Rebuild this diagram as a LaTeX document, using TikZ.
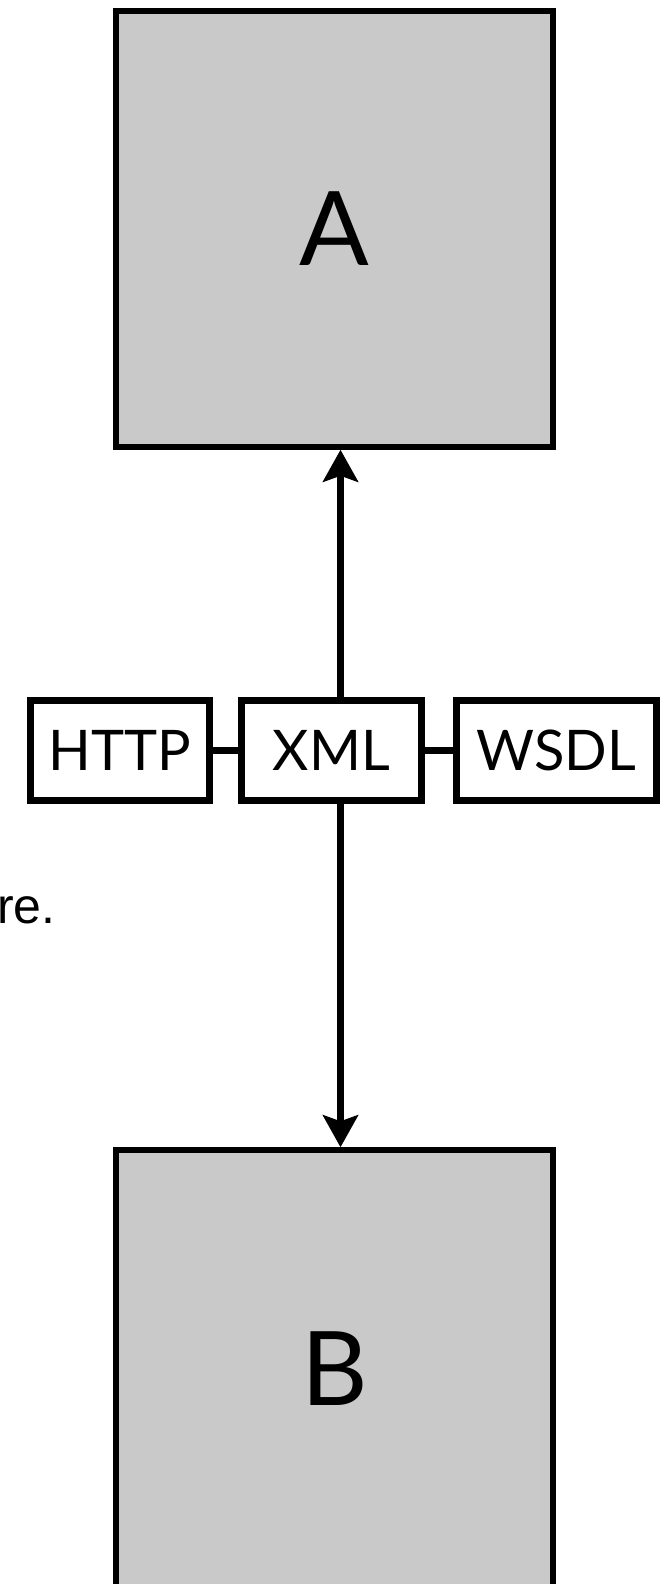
\documentclass[tikz,border=0pt]{standalone}
\usepackage{fontspec}
\setmainfont{Lato}
\newfontfamily\slidefont{Liberation Sans}
\usetikzlibrary{arrows.meta, positioning}

\begin{document}
\begin{tikzpicture}[x=1pt, y=-1pt,
    peer/.style={draw, line width=5.5pt, fill=black!21, minimum width=437pt,
        minimum height=436pt, inner sep=0pt, font=\fontsize{103}{103}\selectfont},
    layer/.style={draw, line width=7pt, fill=white, minimum height=100pt,
        inner sep=0pt, font=\fontsize{56}{56}\selectfont},
    link/.style={line width=7pt},
    msg/.style={line width=6.5pt, -{Stealth[length=32pt, width=35pt, inset=6pt]}}]
    \useasboundingbox (0,0) rectangle (664,1584);

    % The two peers (B runs off the bottom of the slide)
    \node[peer] (a) at (334.5, 229) {A};
    \node[peer, minimum height=480pt] (b) at (334.5, 1390) {};
    \node[font=\fontsize{103}{103}\selectfont] (blbl) at (334.5, 1369) {B};

    % Protocol stack in the middle
    \node[layer, minimum width=179pt] (http) at (120, 750.5) {HTTP};
    \node[layer, minimum width=180pt] (xml) at (331.5, 750.5) {XML};
    \node[layer, minimum width=200pt] (wsdl) at (556.5, 750.5) {WSDL};
    \draw[link] (http.east) -- (xml.west);
    \draw[link] (xml.east) -- (wsdl.west);

    % Messages up and down
    \draw[msg] ([xshift=9pt]xml.north) -- ([xshift=9pt]xml.north |- a.south);
    \draw[msg] ([xshift=9pt]xml.south) -- ([xshift=9pt]xml.south |- b.north);

    % Cut-off slide text
    \node[font=\slidefont\fontsize{50}{50}\selectfont, anchor=base west, inner sep=0pt]
        (note) at (-3, 923) {re.};
\end{tikzpicture}
\end{document}
